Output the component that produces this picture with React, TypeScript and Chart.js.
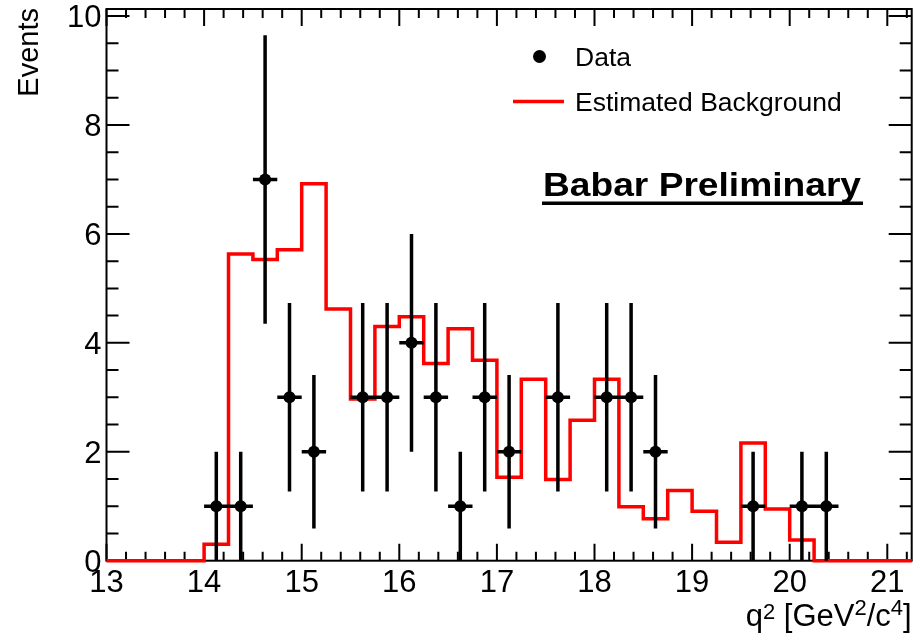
import React, { useEffect, useRef } from "react";
import { Chart, registerables } from "chart.js";

Chart.register(...registerables);

// q^2 binning (GeV^2/c^4), 0.25 wide bins from 13 to 21.25
const binEdges = [
  13, 13.25, 13.5, 13.75, 14, 14.25, 14.5, 14.75, 15, 15.25, 15.5, 15.75,
  16, 16.25, 16.5, 16.75, 17, 17.25, 17.5, 17.75, 18, 18.25, 18.5, 18.75,
  19, 19.25, 19.5, 19.75, 20, 20.25, 20.5, 20.75, 21, 21.25,
];

// Estimated background per bin
const backgroundCounts = [
  0, 0, 0, 0, 0.3, 5.63, 5.53, 5.71, 6.92, 4.62, 2.97, 4.3, 4.48, 3.62, 4.26,
  3.68, 1.53, 3.33, 1.49, 2.58, 3.33, 0.99, 0.77, 1.29, 0.91, 0.34, 2.16, 0.95,
  0.38, 0, 0, 0, 0,
];

// Observed events (non-empty bins only)
const dataCenters = [
  14.125, 14.375, 14.625, 14.875, 15.125, 15.625, 15.875, 16.125, 16.375,
  16.625, 16.875, 17.125, 17.625, 18.125, 18.375, 18.625, 19.625, 20.125, 20.375,
];
const dataCounts = [1, 1, 7, 3, 2, 3, 3, 4, 3, 1, 3, 2, 3, 3, 3, 2, 1, 1, 1];
const dataErrors = [
  1, 1, 2.65, 1.73, 1.41, 1.73, 1.73, 2, 1.73, 1, 1.73, 1.41, 1.73, 1.73, 1.73,
  1.41, 1, 1, 1,
];
const dataHalfWidth = 0.125;

// Axes
const X_MIN = 13;
const X_MAX = 21.25;
const Y_MIN = 0;
const Y_MAX = 10.13;
const xMajorTicks = [13, 14, 15, 16, 17, 18, 19, 20, 21];
const xTickLabels = ["13", "14", "15", "16", "17", "18", "19", "20", "21"];
const xMinorStep = 0.2;
const yMajorTicks = [0, 2, 4, 6, 8, 10];
const yTickLabels = ["0", "2", "4", "6", "8", "10"];
const yMinorStep = 0.5;

const yTitle = "Events";
const xTitleParts = [
  { text: "q", sup: 0 },
  { text: "2", sup: 7 },
  { text: " [GeV", sup: 0 },
  { text: "2", sup: 11 },
  { text: "/c", sup: 0 },
  { text: "4", sup: 11 },
  { text: "]", sup: 0 },
];
const legendLabels = ["Data", "Estimated Background"];
const watermark = "Babar Preliminary";

const FONT = '"Liberation Sans", Arial, Helvetica, sans-serif';
const RED = "#ff0000";

const rootStylePlugin = {
  id: "rootStyle",
  beforeDatasetsDraw(chart: any) {
    const { ctx, chartArea, scales } = chart;
    const x = scales.x;
    const y = scales.y;
    const { left, right, top, bottom } = chartArea;
    ctx.save();
    ctx.fillStyle = "#fff";
    ctx.fillRect(left, top, right - left, bottom - top);

    // frame
    ctx.strokeStyle = "#000";
    ctx.lineWidth = 2;
    ctx.strokeRect(left, top, right - left, bottom - top);

    // x ticks (bottom and top, pointing inward)
    ctx.lineWidth = 2;
    ctx.beginPath();
    for (let v = X_MIN; v <= X_MAX + 1e-6; v += xMinorStep) {
      const vv = Math.round(v * 10) / 10;
      const px = x.getPixelForValue(vv);
      const major = xMajorTicks.includes(vv);
      const len = major ? 17 : 9;
      ctx.moveTo(px, bottom);
      ctx.lineTo(px, bottom - len);
      ctx.moveTo(px, top);
      ctx.lineTo(px, top + len);
    }
    // y ticks (left and right, pointing inward)
    for (let v = Y_MIN; v <= Y_MAX + 1e-6; v += yMinorStep) {
      const vv = Math.round(v * 10) / 10;
      const py = y.getPixelForValue(vv);
      const major = yMajorTicks.includes(vv);
      const len = major ? 23 : 12;
      ctx.moveTo(left, py);
      ctx.lineTo(left + len, py);
      ctx.moveTo(right, py);
      ctx.lineTo(right - len, py);
    }
    ctx.stroke();
    ctx.restore();
  },
  beforeDatasetDraw(chart: any, args: any) {
    const ds = chart.data.datasets[args.index];
    if (ds.label !== legendLabels[0]) return;
    const { ctx, scales } = chart;
    const x = scales.x;
    const y = scales.y;
    ctx.save();
    ctx.strokeStyle = "#000";
    ctx.lineWidth = 3.5;
    ctx.beginPath();
    dataCenters.forEach((c, i) => {
      const n = dataCounts[i];
      const e = dataErrors[i];
      const px = x.getPixelForValue(c);
      const py = y.getPixelForValue(n);
      ctx.moveTo(px, y.getPixelForValue(Math.max(n - e, 0)));
      ctx.lineTo(px, y.getPixelForValue(n + e));
      ctx.moveTo(x.getPixelForValue(c - dataHalfWidth), py);
      ctx.lineTo(x.getPixelForValue(c + dataHalfWidth), py);
    });
    ctx.stroke();
    ctx.restore();
  },
  afterDraw(chart: any) {
    const { ctx, chartArea, scales } = chart;
    const x = scales.x;
    const y = scales.y;
    const { left, right, top, bottom } = chartArea;
    ctx.save();
    ctx.fillStyle = "#000";

    // tick labels
    ctx.font = `31px ${FONT}`;
    ctx.textAlign = "center";
    ctx.textBaseline = "alphabetic";
    xMajorTicks.forEach((v, i) => {
      ctx.fillText(xTickLabels[i], x.getPixelForValue(v), bottom + 31);
    });
    ctx.textAlign = "right";
    yMajorTicks.forEach((v, i) => {
      ctx.fillText(yTickLabels[i], left - 5, y.getPixelForValue(v) + 11);
    });

    // y title, rotated, aligned to the top of the axis
    ctx.save();
    ctx.translate(38, top - 1);
    ctx.rotate(-Math.PI / 2);
    ctx.font = `29px ${FONT}`;
    ctx.textAlign = "right";
    ctx.textBaseline = "alphabetic";
    ctx.fillText(yTitle, 0, 0);
    ctx.restore();

    // x title with superscripts, aligned to the right end of the axis
    const mainSize = 31;
    const supSize = 22;
    const widths = xTitleParts.map((p) => {
      ctx.font = `${p.sup ? supSize : mainSize}px ${FONT}`;
      return ctx.measureText(p.text).width;
    });
    const total = widths.reduce((a, b) => a + b, 0);
    let cx = right - total;
    const base = 626;
    ctx.textAlign = "left";
    xTitleParts.forEach((p, i) => {
      ctx.font = `${p.sup ? supSize : mainSize}px ${FONT}`;
      ctx.fillText(p.text, cx, base - p.sup);
      cx += widths[i];
    });

    // legend
    ctx.beginPath();
    ctx.arc(539.5, 56.5, 6.5, 0, Math.PI * 2);
    ctx.fill();
    ctx.strokeStyle = RED;
    ctx.lineWidth = 3.5;
    ctx.beginPath();
    ctx.moveTo(513, 101.5);
    ctx.lineTo(564, 101.5);
    ctx.stroke();
    ctx.font = `26.5px ${FONT}`;
    ctx.textAlign = "left";
    ctx.fillText(legendLabels[0], 575, 65.5);
    ctx.fillText(legendLabels[1], 575, 110.5);

    // preliminary label, underlined
    ctx.font = `bold 33px ${FONT}`;
    const w = ctx.measureText(watermark).width;
    const targetW = 318;
    ctx.save();
    ctx.translate(543, 196);
    ctx.scale(targetW / w, 1);
    ctx.fillText(watermark, 0, 0);
    ctx.restore();
    ctx.fillRect(542, 201.5, 321, 3.5);

    ctx.restore();
  },
};

export default function App() {
  const canvasRef = useRef<HTMLCanvasElement | null>(null);

  useEffect(() => {
    const canvas = canvasRef.current;
    if (!canvas) return;
    // one point per bin edge; each horizontal run uses the value of the bin starting there
    const bkgPoints = binEdges.map((e, i) => ({
      x: e,
      y: backgroundCounts[Math.min(i, backgroundCounts.length - 1)],
    }));
    const dataPoints = dataCenters.map((c, i) => ({ x: c, y: dataCounts[i] }));

    const chart = new Chart(canvas, {
      type: "scatter",
      data: {
        datasets: [
          {
            label: legendLabels[0],
            type: "scatter",
            data: dataPoints,
            pointRadius: 6,
            pointHoverRadius: 6,
            pointBackgroundColor: "#000",
            pointBorderWidth: 0,
            order: 0,
            clip: false,
          } as any,
          {
            label: legendLabels[1],
            type: "line",
            data: bkgPoints,
            stepped: "before",
            borderColor: RED,
            borderWidth: 3.5,
            pointRadius: 0,
            fill: false,
            order: 1,
            clip: false,
          } as any,
        ],
      },
      options: {
        responsive: false,
        animation: false,
        events: [],
        layout: { padding: { left: 106.5, top: 9, right: 11.3, bottom: 76.3 } },
        scales: {
          x: { type: "linear", min: X_MIN, max: X_MAX, display: false },
          y: { type: "linear", min: Y_MIN, max: Y_MAX, display: false },
        },
        plugins: {
          legend: { display: false },
          tooltip: { enabled: false },
          title: { display: false },
        },
      },
      plugins: [rootStylePlugin],
    });
    return () => chart.destroy();
  }, []);

  return (
    <div
      style={{
        position: "absolute",
        left: 0,
        top: 0,
        width: 923,
        height: 637,
        background: "#fff",
      }}
    >
      <canvas ref={canvasRef} width={923} height={637} />
    </div>
  );
}
